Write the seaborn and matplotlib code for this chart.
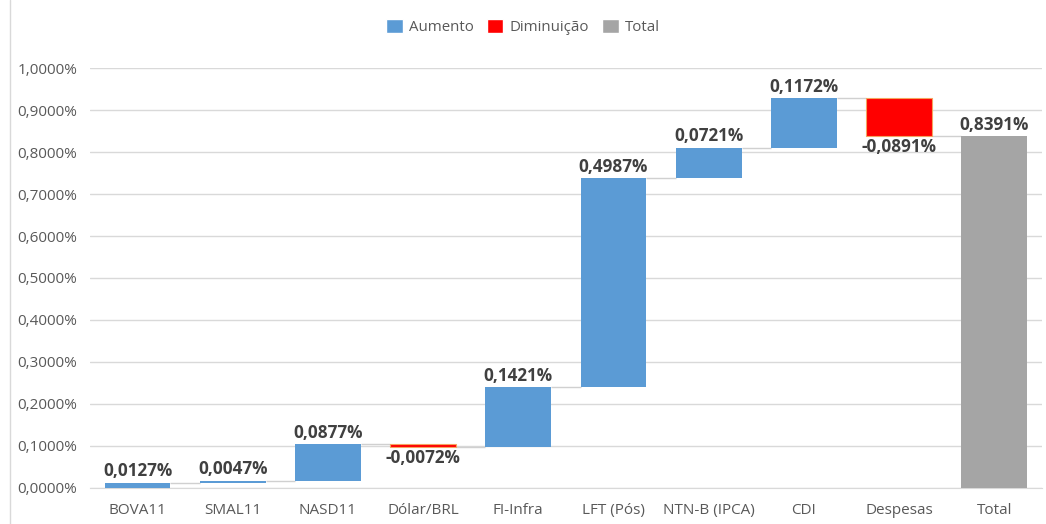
import numpy as np
import pandas as pd
import matplotlib.pyplot as plt
import seaborn as sns
from matplotlib.patches import Patch
from matplotlib.lines import Line2D
from matplotlib.ticker import FuncFormatter

categories = ['BOVA11', 'SMAL11', 'NASD11', 'Dólar/BRL', 'FI-Infra',
              'LFT (Pós)', 'NTN-B (IPCA)', 'CDI', 'Despesas', 'Total']
changes = [0.0127, 0.0047, 0.0877, -0.0072, 0.1421, 0.4987, 0.0721, 0.1172, -0.0891]
total_value = 0.8391

col_up = '#5b9bd5'
col_down = '#ff0000'
col_total = '#a5a5a5'

# build waterfall table
cum = np.cumsum(changes)
prev = np.concatenate([[0], cum[:-1]])
bases = list(np.minimum(prev, cum)) + [0]
heights = list(np.abs(changes)) + [total_value]
kinds = ['Aumento' if v >= 0 else 'Diminuição' for v in changes] + ['Total']
labels = changes + [total_value]
df = pd.DataFrame({'cat': categories, 'base': bases, 'height': heights,
                   'kind': kinds, 'label': labels})

sns.set_style('white')
plt.rcParams['font.family'] = ['Open Sans', 'DejaVu Sans']

fig = plt.figure(figsize=(10.46, 5.24), dpi=100)
ax = fig.add_axes([0.086, 0.069, 0.910, 0.801])

sns.barplot(data=df, x='cat', y='height', bottom=df['base'], order=categories,
            color=col_up, width=0.69, ax=ax, zorder=3, linewidth=0)
colors = {'Aumento': col_up, 'Diminuição': col_down, 'Total': col_total}
for patch, k in zip(ax.patches, df['kind']):
    patch.set_facecolor(colors[k])
    if k == 'Diminuição':
        patch.set_edgecolor('#f4a460')
        patch.set_linewidth(0.8)

# connector lines
w = 0.69
levels = list(cum)
for i, lv in enumerate(levels):
    ax.hlines(lv, i + w / 2, i + 1 - w / 2, color='#d0d0d0', linewidth=1, zorder=2)

# data labels
for i, row in df.iterrows():
    txt = f"{row['label']:.4f}%".replace('.', ',')
    if row['label'] >= 0:
        ax.text(i, row['base'] + row['height'] + 0.005, txt, ha='center', va='bottom',
                fontsize=12.3, fontweight='bold', color='#404040', zorder=4)
    else:
        ax.text(i, row['base'] - 0.005, txt, ha='center', va='top',
                fontsize=12.3, fontweight='bold', color='#404040', zorder=4)

ax.set_ylim(0, 1.0)
ax.set_xlim(-0.5, len(categories) - 0.5)
ax.set_yticks(np.arange(0, 1.0001, 0.1))
ax.yaxis.set_major_formatter(FuncFormatter(lambda v, p: f"{v:.4f}%".replace('.', ',')))
ax.grid(True, axis='y', color='#d9d9d9', linewidth=1, zorder=0)
ax.set_axisbelow(True)
for s in ['top', 'right', 'left']:
    ax.spines[s].set_visible(False)
ax.spines['bottom'].set_color('#d9d9d9')
ax.tick_params(axis='both', length=0, labelsize=11, colors='#595959')
ax.tick_params(axis='x', pad=11)
ax.tick_params(axis='y', pad=9)
ax.set_xlabel('')
ax.set_ylabel('')

handles = [Patch(facecolor=col_up, label='Aumento'),
           Patch(facecolor=col_down, label='Diminuição'),
           Patch(facecolor=col_total, label='Total')]
fig.legend(handles=handles, loc='center', bbox_to_anchor=(0.5, 0.948), ncol=3,
           frameon=False, fontsize=10.8, handlelength=1.1, handleheight=1.1,
           handletextpad=0.4, columnspacing=0.9, labelcolor='#595959')

fig.add_artist(Line2D([0.0096, 0.0096], [0, 1], color='#d9d9d9', linewidth=1,
                      transform=fig.transFigure))

fig.savefig('out.png', dpi=100)
